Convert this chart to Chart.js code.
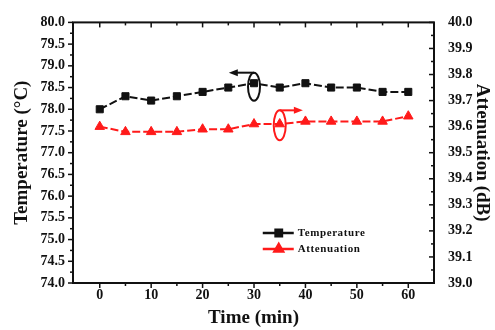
<!DOCTYPE html>
<html>
<head>
<meta charset="utf-8">
<script src="https://cdn.jsdelivr.net/npm/chart.js@4.4.1/dist/chart.umd.min.js"></script>
<style>
  html, body { margin: 0; padding: 0; background: #fff; }
</style>
</head>
<body>
<canvas id="chart-temp-att" width="495" height="330"></canvas>
<script>
// data
const timeMin = [0, 5, 10, 15, 20, 25, 30, 35, 40, 45, 50, 55, 60];
const temperature = [78.0, 78.3, 78.2, 78.3, 78.4, 78.5, 78.6, 78.5, 78.6, 78.5, 78.5, 78.4, 78.4];
const attenuation = [39.60, 39.58, 39.58, 39.58, 39.59, 39.59, 39.61, 39.61, 39.62, 39.62, 39.62, 39.62, 39.64];

const xTicks = [0, 10, 20, 30, 40, 50, 60];
const tempTicks = [74.0, 74.5, 75.0, 75.5, 76.0, 76.5, 77.0, 77.5, 78.0, 78.5, 79.0, 79.5, 80.0];
const attTicks = [39.0, 39.1, 39.2, 39.3, 39.4, 39.5, 39.6, 39.7, 39.8, 39.9, 40.0];

const SERIF = "'Liberation Serif', 'Times New Roman', serif";
const RED = "#ff1a1a";
const INK = "#111";

const tickFont = { family: SERIF, size: 14, weight: "bold" };
const titleFont = { family: SERIF, size: 19, weight: "bold" };

// midpoints between major ticks -> minor ticks
const minorsOf = (arr) => arr.slice(1).map((v, i) => (v + arr[i]) / 2);

// frame, tick marks, the two ellipse/arrow callouts and the legend
const decorations = {
  id: "decorations",
  afterDatasetsDraw(chart) {
    const { ctx, chartArea: a, scales } = chart;
    const sx = scales.x, sT = scales.yT, sA = scales.yA;
    ctx.save();
    ctx.strokeStyle = INK;
    ctx.lineWidth = 2;
    ctx.strokeRect(a.left, a.top, a.right - a.left, a.bottom - a.top);

    ctx.lineWidth = 1.5;
    const line = (x1, y1, x2, y2) => { ctx.beginPath(); ctx.moveTo(x1, y1); ctx.lineTo(x2, y2); ctx.stroke(); };

    // left axis: outward
    tempTicks.forEach((v) => { const y = sT.getPixelForValue(v); line(a.left - 5, y, a.left, y); });
    minorsOf(tempTicks).forEach((v) => { const y = sT.getPixelForValue(v); line(a.left - 3, y, a.left, y); });
    // right axis: inward
    attTicks.forEach((v) => { const y = sA.getPixelForValue(v); line(a.right - 5, y, a.right, y); });
    minorsOf(attTicks).forEach((v) => { const y = sA.getPixelForValue(v); line(a.right - 3, y, a.right, y); });
    // bottom: outward, top: inward
    xTicks.forEach((v) => {
      const x = sx.getPixelForValue(v);
      line(x, a.bottom, x, a.bottom + 5);
      line(x, a.top, x, a.top + 5);
    });
    minorsOf(xTicks).forEach((v) => {
      const x = sx.getPixelForValue(v);
      line(x, a.bottom, x, a.bottom + 3);
      line(x, a.top, x, a.top + 3);
    });

    // callouts
    const callout = (color, xv, yPix, xArrowTo, rx, ry) => {
      const cx = sx.getPixelForValue(xv);
      const topY = yPix - ry;
      const tipX = sx.getPixelForValue(xArrowTo);
      ctx.strokeStyle = color;
      ctx.fillStyle = color;
      ctx.lineWidth = 2;
      ctx.beginPath();
      ctx.ellipse(cx, yPix, rx, ry, 0, 0, Math.PI * 2);
      ctx.stroke();
      const dir = tipX < cx ? -1 : 1;
      line(cx, topY, tipX - dir * 6, topY);
      ctx.beginPath();
      ctx.moveTo(tipX, topY);
      ctx.lineTo(tipX - dir * 9, topY - 3.5);
      ctx.lineTo(tipX - dir * 9, topY + 3.5);
      ctx.closePath();
      ctx.fill();
    };
    callout(INK, 30, sT.getPixelForValue(78.52), 25.1, 6, 14);
    callout(RED, 35, sA.getPixelForValue(39.605), 39.5, 6, 15);

    // legend
    const lx = sx.getPixelForValue(31.7);
    const entries = [
      { label: "Temperature", color: INK, style: "rect", y: 233 },
      { label: "Attenuation", color: RED, style: "triangle", y: 249 },
    ];
    entries.forEach((e) => {
      ctx.strokeStyle = e.color;
      ctx.fillStyle = e.color;
      ctx.lineWidth = 2.5;
      line(lx, e.y, lx + 31, e.y);
      Chart.helpers.drawPoint(ctx, { pointStyle: e.style, radius: e.style === "rect" ? 4.5 : 5, borderWidth: 1 }, lx + 16, e.y);
      ctx.fillStyle = INK;
      ctx.font = `bold 11px ${SERIF}`;
      ctx.letterSpacing = "0.6px";
      ctx.textBaseline = "middle";
      ctx.textAlign = "left";
      ctx.fillText(e.label, lx + 35, e.y);
    });
    ctx.restore();
  },
};

const fixTicks = (values) => (scale) => { scale.ticks = values.map((v) => ({ value: v })); };

new Chart(document.getElementById("chart-temp-att"), {
  type: "line",
  data: {
    datasets: [
      {
        label: "Temperature",
        data: timeMin.map((t, i) => ({ x: t, y: temperature[i] })),
        yAxisID: "yT",
        borderColor: INK,
        backgroundColor: INK,
        borderWidth: 2,
        borderDash: [8, 3],
        pointStyle: "rect",
        pointRadius: 5,
        pointBorderWidth: 1,
        tension: 0,
      },
      {
        label: "Attenuation",
        data: timeMin.map((t, i) => ({ x: t, y: attenuation[i] })),
        yAxisID: "yA",
        borderColor: RED,
        backgroundColor: RED,
        borderWidth: 2,
        borderDash: [8, 3],
        pointStyle: "triangle",
        pointRadius: 5.5,
        pointBorderWidth: 1,
        tension: 0,
      },
    ],
  },
  options: {
    responsive: false,
    animation: false,
    layout: { padding: { top: 18, left: 0, right: 0, bottom: 0 } },
    plugins: { legend: { display: false }, tooltip: { enabled: false } },
    scales: {
      x: {
        type: "linear",
        position: "bottom",
        min: -5.2,
        max: 65,
        afterBuildTicks: fixTicks(xTicks),
        afterFit: (s) => { s.height = 47; },
        grid: { display: false, drawTicks: false },
        border: { display: false },
        ticks: { font: tickFont, color: INK, padding: 4, maxRotation: 0, autoSkip: false },
        title: { display: true, text: "Time (min)", font: titleFont, color: INK, padding: { top: 0, bottom: 1 } },
      },
      yT: {
        type: "linear",
        position: "left",
        min: 74,
        max: 80,
        afterBuildTicks: fixTicks(tempTicks),
        afterFit: (s) => { s.width = 73; },
        grid: { display: false, drawTicks: false },
        border: { display: false },
        ticks: { font: tickFont, color: INK, padding: 8, callback: (v) => v.toFixed(1) },
        title: { display: true, text: "Temperature (°C)", font: titleFont, color: INK, padding: { top: 11, bottom: 0 } },
      },
      yA: {
        type: "linear",
        position: "right",
        min: 39,
        max: 40,
        afterBuildTicks: fixTicks(attTicks),
        afterFit: (s) => { s.width = 61; },
        grid: { display: false, drawTicks: false },
        border: { display: false },
        ticks: { font: tickFont, color: INK, padding: 14, callback: (v) => v.toFixed(1) },
        title: { display: true, text: "Attenuation (dB)", font: titleFont, color: INK, padding: { top: 2, bottom: 0 } },
      },
    },
  },
  plugins: [decorations],
});
</script>
</body>
</html>
